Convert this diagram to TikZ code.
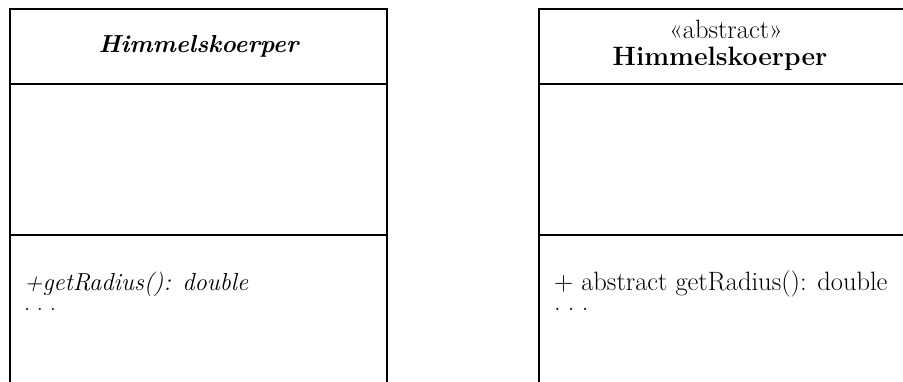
\documentclass[tikz,border=0pt]{standalone}
\usepackage{fontspec}
\newcommand{\mydots}{.\kern0.27em.\kern0.27em.}
\begin{document}
\begin{tikzpicture}[x=1pt,y=-1pt,
  box/.style={line width=1.3pt,draw=black},
  txtl/.style={inner sep=0pt,anchor=base,font=\fontsize{24.6}{29}\selectfont},
  txtlw/.style={inner sep=0pt,anchor=base west,font=\fontsize{24.6}{29}\selectfont},
  txtr/.style={inner sep=0pt,anchor=base,font=\fontsize{26.5}{31}\selectfont},
  txtrw/.style={inner sep=0pt,anchor=base west,font=\fontsize{26.5}{31}\selectfont}]
\useasboundingbox (0,0) rectangle (903,381);
% left class
\coordinate (l1) at (10,395);
\coordinate (l2) at (10,9);
\coordinate (l3) at (387,9);
\coordinate (l4) at (387,395);
\draw[box] (l1) -- (l2) -- (l3) -- (l4);
\coordinate (ld1a) at (10,84); \coordinate (ld1b) at (387,84);
\coordinate (ld2a) at (10,235); \coordinate (ld2b) at (387,235);
\draw[box] (ld1a) -- (ld1b);
\draw[box] (ld2a) -- (ld2b);
\node[txtl] (ltitle) at (198.5,52) {\bfseries\itshape Himmelskoerper};
\node[txtlw] (lm1) at (24,290) {\itshape +getRadius(): double};
\node[txtlw] (lm2) at (24,310) {\mydots};
% right class
\coordinate (r1) at (539,395);
\coordinate (r2) at (539,9);
\coordinate (r3) at (910,9);
\draw[box] (r1) -- (r2) -- (r3);
\coordinate (rd1a) at (539,84); \coordinate (rd1b) at (910,84);
\coordinate (rd2a) at (539,235); \coordinate (rd2b) at (910,235);
\draw[box] (rd1a) -- (rd1b);
\draw[box] (rd2a) -- (rd2b);
\node[txtr] (rster) at (726,38) {«abstract»};
\node[txtr] (rtitle) at (720,65) {\bfseries Himmelskoerper};
\node[txtrw] (rm1) at (554,290) {+ abstract getRadius(): double};
\node[txtrw] (rm2) at (554,310) {\mydots};
\end{tikzpicture}
\end{document}
